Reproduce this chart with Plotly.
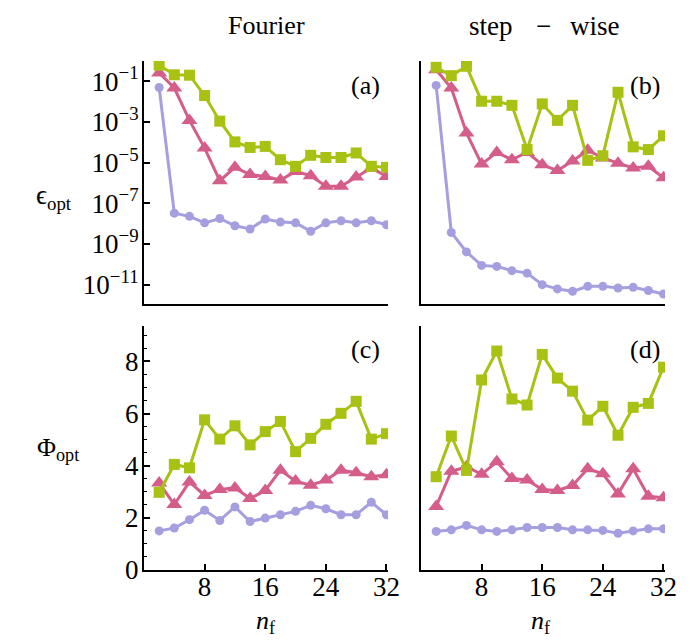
import plotly.graph_objects as go

nf = [2, 4, 6, 8, 10, 12, 14, 16, 18, 20, 22, 24, 26, 28, 30, 32]

# (a) Fourier, epsilon_opt
eps_fourier_sq = [0.62, 0.21, 0.20, 0.020, 1.1e-3, 1.05e-4, 5.6e-5, 6.3e-5, 1.4e-5, 6.6e-6,
                  2.3e-5, 1.8e-5, 1.8e-5, 3.0e-5, 6.6e-6, 5.9e-6]
eps_fourier_tri = [0.26, 0.047, 1.2e-3, 5.2e-5, 1.3e-6, 5.9e-6, 2.6e-6, 2.1e-6, 1.4e-6, 3.7e-6,
                   2.3e-6, 6.9e-7, 6.9e-7, 2.0e-6, 5.5e-6, 2.1e-6]
eps_fourier_cir = [0.050, 3.3e-8, 2.3e-8, 1.1e-8, 1.8e-8, 7.9e-9, 5.5e-9, 1.7e-8, 1.2e-8, 1.1e-8,
                   4.2e-9, 1.1e-8, 1.4e-8, 1.1e-8, 1.4e-8, 8.9e-9]
# (b) step-wise, epsilon_opt
eps_step_sq = [0.49, 0.19, 0.55, 0.0105, 0.0105, 6.6e-3, 4.4e-5, 7.8e-3, 1.2e-3, 6.6e-3,
               1.3e-5, 2.2e-5, 0.029, 6.0e-5, 4.4e-5, 2.1e-4]
eps_step_tri = [0.37, 0.047, 2.9e-4, 8.5e-6, 3.2e-5, 1.4e-5, 3.2e-5, 7.9e-6, 4.1e-6, 1.2e-5,
                4.1e-5, 1.7e-5, 9.5e-6, 5.5e-6, 6.6e-6, 1.8e-6]
eps_step_cir = [0.063, 3.7e-9, 4.1e-10, 8.9e-11, 7.9e-11, 4.9e-11, 3.7e-11, 1.0e-11, 6.2e-12, 4.7e-12,
                8.3e-12, 8.3e-12, 6.9e-12, 7.4e-12, 5.2e-12, 3.5e-12]
# (c) Fourier, Phi_opt
phi_fourier_sq = [2.98, 4.05, 3.92, 5.76, 5.02, 5.53, 4.80, 5.31, 5.70, 4.54, 5.05, 5.59, 6.01, 6.47, 5.02, 5.23]
phi_fourier_tri = [3.34, 2.51, 3.38, 2.86, 3.09, 3.15, 2.74, 3.05, 3.83, 3.41, 3.25, 3.45, 3.83, 3.73, 3.58, 3.65]
phi_fourier_cir = [1.50, 1.61, 1.93, 2.29, 1.90, 2.42, 1.86, 1.99, 2.12, 2.25, 2.48, 2.35, 2.12, 2.12, 2.60, 2.12]
# (d) step-wise, Phi_opt
phi_step_sq = [3.58, 5.14, 3.82, 7.29, 8.40, 6.56, 6.33, 8.27, 7.36, 6.86, 5.75, 6.28, 5.17, 6.24, 6.39, 7.78]
phi_step_tri = [2.44, 3.79, 3.96, 3.67, 4.15, 3.51, 3.45, 3.09, 3.05, 3.24, 3.88, 3.69, 2.92, 3.88, 2.83, 2.77]
phi_step_cir = [1.48, 1.54, 1.71, 1.54, 1.48, 1.54, 1.63, 1.63, 1.63, 1.54, 1.54, 1.52, 1.41, 1.50, 1.58, 1.58]

x_ticks = [8, 16, 24, 32]
log_tickvals = [1e-1, 1e-3, 1e-5, 1e-7, 1e-9, 1e-11]
log_ticktext = ["10<sup>\u22121</sup>", "10<sup>\u22123</sup>", "10<sup>\u22125</sup>",
                "10<sup>\u22127</sup>", "10<sup>\u22129</sup>", "10<sup>\u221211</sup>"]
lin_tickvals = [0, 2, 4, 6, 8]

GREEN = "#a9c112"
PINK = "#d45d8a"
BLUE = "#a59fe0"
FONT = "Liberation Serif"

W, H = 690, 640
def px_x(a, b):
    return [a / W, b / W]
def px_y(top, bot):
    return [(H - bot) / H, (H - top) / H]

fig = go.Figure()

panels = [
    (1, 1, eps_fourier_cir, eps_fourier_tri, eps_fourier_sq),
    (1, 2, eps_step_cir, eps_step_tri, eps_step_sq),
    (2, 1, phi_fourier_cir, phi_fourier_tri, phi_fourier_sq),
    (2, 2, phi_step_cir, phi_step_tri, phi_step_sq),
]

for i, (r, c, cir, tri, sq) in enumerate(panels):
    idx = "" if i == 0 else str(i + 1)
    xa, ya = "x" + idx, "y" + idx
    for data, color, sym, size in [(cir, BLUE, "circle", 9), (tri, PINK, "triangle-up", 14),
                                   (sq, GREEN, "square", 11)]:
        fig.add_trace(go.Scatter(x=nf, y=data, xaxis=xa, yaxis=ya, mode="lines+markers",
                                 line=dict(color=color, width=3),
                                 marker=dict(color=color, symbol=sym, size=size, line=dict(width=0)),
                                 showlegend=False, hoverinfo="skip"))

xdom = {1: px_x(136, 380), 2: px_x(413, 657)}
ydom = {1: px_y(53, 296), 2: px_y(318, 562)}

axis_common = dict(showline=True, linecolor="black", linewidth=2, showgrid=False, zeroline=False,
                   tickfont=dict(family=FONT, size=27, color="black"), ticks="inside",
                   tickcolor="black", tickwidth=1.5, automargin=False)

for i, (r, c, *_ ) in enumerate(panels):
    idx = "" if i == 0 else str(i + 1)
    xkey, ykey = "xaxis" + idx, "yaxis" + idx
    xcfg = dict(axis_common, domain=xdom[c], range=[0, 32.2], anchor="y" + idx,
                tickvals=x_ticks, ticklen=6)
    if r == 1:
        xcfg.update(ticks="", showticklabels=False)
    else:
        xcfg.update(ticklabelstandoff=-8)
    if r == 1:
        ycfg = dict(axis_common, domain=ydom[r], type="log", range=[-11.95, 0], anchor="x" + idx,
                    tickvals=log_tickvals, ticktext=log_ticktext, ticklen=6)
    else:
        ycfg = dict(axis_common, domain=ydom[r], range=[0, 9.36], anchor="x" + idx,
                    tickvals=lin_tickvals, ticklen=6,
                    minor=dict(dtick=0.5, ticklen=3, ticks="inside", tickcolor="black", tickwidth=1.2))
    if c == 2:
        ycfg.update(ticks="", showticklabels=False)
        ycfg.pop("minor", None)
    else:
        ycfg.update(ticklabelstandoff=-2)
    fig.layout[xkey] = xcfg
    fig.layout[ykey] = ycfg

def ann(text, x, y, size, xanchor="center"):
    fig.add_annotation(text=text, x=x / W, y=1 - y / H, xref="paper", yref="paper",
                       showarrow=False, xanchor=xanchor, yanchor="middle",
                       font=dict(family=FONT, size=size, color="black"))

ann("Fourier", 258, 18, 26)
ann("step", 507, 18, 27, xanchor="right")
ann("\u2212", 535, 18, 27)
ann("wise", 560, 18, 27, xanchor="left")
ann("<i>n</i><sub>f</sub>", 258, 614, 26)
ann("<i>n</i><sub>f</sub>", 533, 614, 26)
ann("\u03f5<sub>opt</sub>", 46, 189, 27)
ann("\u03a6<sub>opt</sub>", 50, 441, 26)
ann("(a)", 357, 77, 26)
ann("(b)", 637, 77, 26)
ann("(c)", 357, 341, 26)
ann("(d)", 637, 341, 26)

fig.update_layout(width=W, height=H, margin=dict(l=0, r=0, t=0, b=0),
                  paper_bgcolor="white", plot_bgcolor="white")

fig.write_html("out.html")
